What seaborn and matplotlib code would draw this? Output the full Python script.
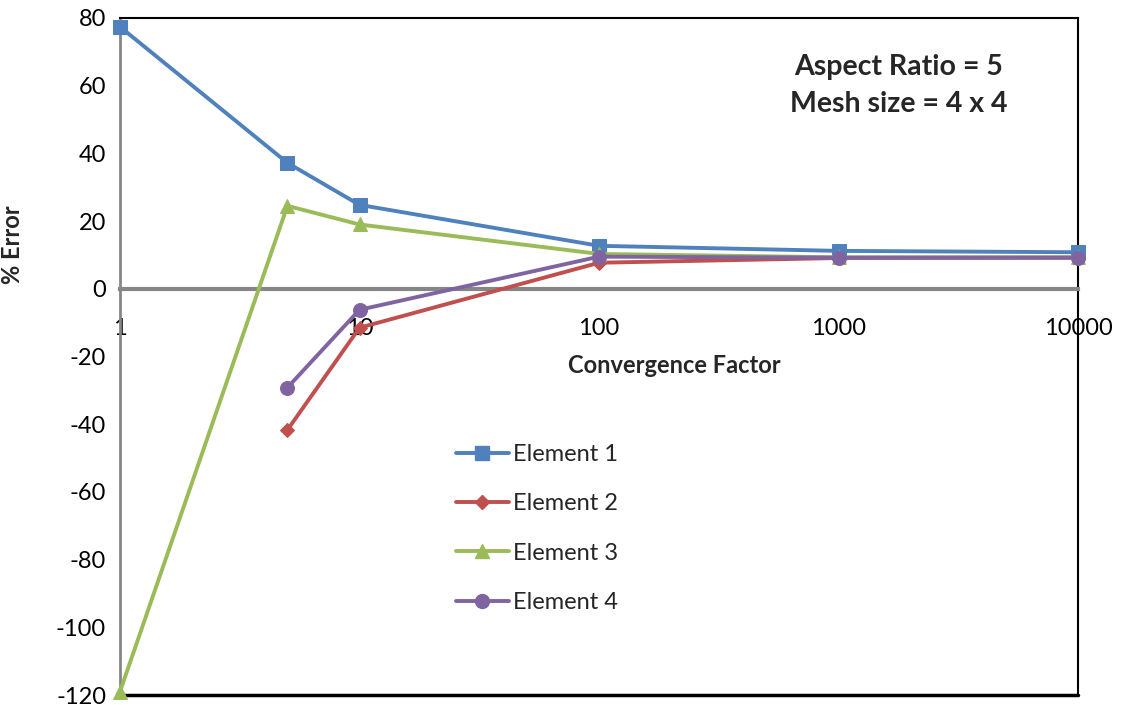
import numpy as np
import pandas as pd
import seaborn as sns
import matplotlib.pyplot as plt
from matplotlib.lines import Line2D

# Data
factor = [1, 5, 10, 100, 1000, 10000]
element1 = [77.4, 37.2, 24.8, 12.7, 11.2, 10.8]
element2 = [np.nan, -41.7, -11.5, 7.7, 9.1, 9.2]
element3 = [-119.0, 24.5, 19.0, 10.3, 9.3, 9.3]
element4 = [np.nan, -29.2, -6.2, 9.5, 9.2, 9.2]

names = ['Element 1', 'Element 2', 'Element 3', 'Element 4']
colors = ['#4F81BD', '#C0504D', '#9BBB59', '#8064A2']
markers = ['s', 'D', '^', 'o']
msizes = [10.5, 7, 10, 10]

df = pd.DataFrame({'Convergence Factor': factor,
                   'Element 1': element1, 'Element 2': element2,
                   'Element 3': element3, 'Element 4': element4})

sns.set_style('white')
plt.rcParams['font.family'] = ['Lato', 'DejaVu Sans']
plt.rcParams['axes.unicode_minus'] = False

fig = plt.figure(figsize=(11.21, 7.05), dpi=100)
ax = fig.add_axes([120 / 1121, 1 - 695 / 705, 958 / 1121, 677 / 705])

for name, c, m, ms in zip(names, colors, markers, msizes):
    sub = df[['Convergence Factor', name]].dropna()
    sns.lineplot(data=sub, x='Convergence Factor', y=name, ax=ax, color=c,
                 marker=m, markersize=ms, markeredgecolor=c, linewidth=2.8,
                 clip_on=False, zorder=3)

ax.set_xscale('log')
ax.set_xlim(1, 10000)
ax.set_ylim(-120, 80)
ax.set_xticks(factor[:1] + factor[2:])
ax.set_xticklabels(['1', '10', '100', '1000', '10000'])
ax.set_yticks(np.arange(-120, 81, 20))
ax.minorticks_off()

# Axis lines: zero line carries the x ticks, frame drawn in black
ax.spines['bottom'].set_position(('data', 0))
ax.spines['bottom'].set_color('#868686')
ax.spines['bottom'].set_linewidth(3)
ax.spines['left'].set_color('#868686')
ax.spines['left'].set_linewidth(2)
for s in ['top', 'right']:
    ax.spines[s].set_color('black')
    ax.spines[s].set_linewidth(1.5)
ax.axhline(-120, color='black', linewidth=2.5, clip_on=False, zorder=2)

ax.tick_params(axis='x', direction='out', length=6, width=2, colors='#868686',
               labelcolor='black', labelsize=17, pad=15)
ax.tick_params(axis='y', direction='out', length=6, width=1.5, colors='#868686',
               labelcolor='black', labelsize=17, pad=4)

ax.set_xlabel('Convergence Factor', fontsize=17, fontweight='bold')
ax.xaxis.set_label_coords(0.579, 0.503)
ax.set_ylabel('% Error', fontsize=17, fontweight='bold')
ax.yaxis.set_label_coords(-0.1, 0.665)

ax.text(0.813, 0.9, 'Aspect Ratio = 5\nMesh size = 4 x 4', transform=ax.transAxes,
        ha='center', va='center', fontsize=20.5, fontweight='bold', linespacing=1.5)

handles = [Line2D([0], [0], color=c, marker=m, markersize=ms, markeredgecolor=c,
                  linewidth=2.8) for c, m, ms in zip(colors, markers, msizes)]
ax.legend(handles, names, loc='upper left', frameon=False, fontsize=17,
          handlelength=2.25, labelspacing=1.2, handletextpad=0.15,
          borderpad=0.3, bbox_to_anchor=(437 / 1121, 1 - 425 / 705),
          bbox_transform=fig.transFigure)

fig.savefig('out.png', dpi=100)
